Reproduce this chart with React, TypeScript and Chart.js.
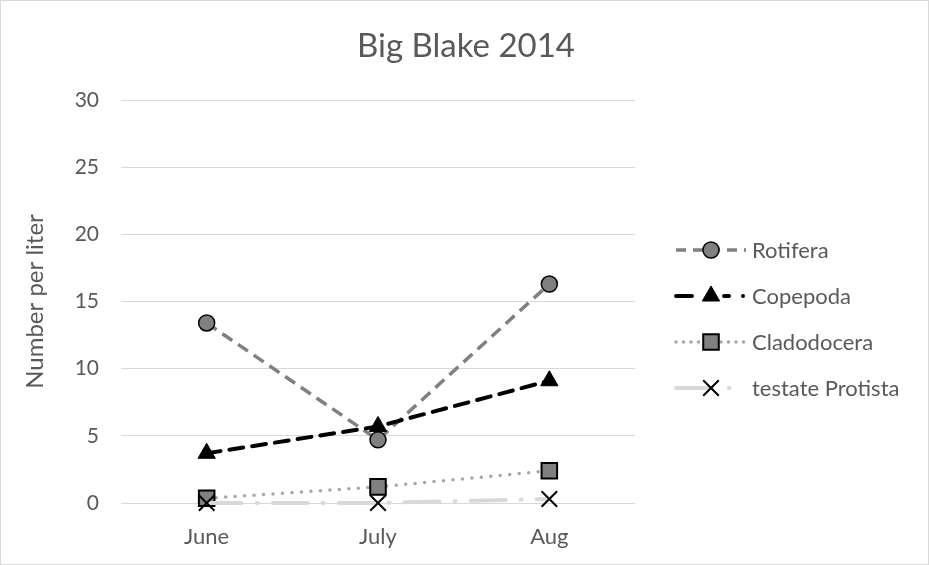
import React, { useEffect, useRef } from "react";
import { Chart, registerables } from "chart.js";
import { drawPoint } from "chart.js/helpers";

Chart.register(...registerables);

const chartTitle = "Big Blake 2014";
const yAxisTitle = "Number per liter";
const categories = ["June", "July", "Aug"];
const rotifera = [13.4, 4.7, 16.3];
const copepoda = [3.7, 5.7, 9.1];
const cladodocera = [0.35, 1.2, 2.4];
const testateProtista = [0, 0, 0.3];
const yTicks = [0, 5, 10, 15, 20, 25, 30];

const FONT = "Lato, 'Open Sans', sans-serif";
const TEXT = "#595959";

const titleLegendPlugin = {
  id: "titleLegend",
  afterDraw(chart: any) {
    const ctx = chart.ctx as CanvasRenderingContext2D;
    // title
    ctx.save();
    ctx.fillStyle = TEXT;
    ctx.font = `33px ${FONT}`;
    ctx.textAlign = "center";
    ctx.textBaseline = "alphabetic";
    ctx.fillText(chartTitle, 465, 56);
    ctx.restore();
    // legend
    const x0 = 675;
    const x1 = 745;
    const y0 = 249;
    const step = 46;
    chart.data.datasets.forEach((ds: any, i: number) => {
      const y = y0 + i * step;
      ctx.save();
      ctx.strokeStyle = ds.borderColor;
      ctx.lineWidth = ds.borderWidth;
      ctx.lineCap = ds.borderCapStyle || "butt";
      ctx.setLineDash(ds.legendDash || ds.borderDash || []);
      ctx.beginPath();
      ctx.moveTo(x0, y);
      ctx.lineTo(x1, y);
      ctx.stroke();
      ctx.restore();
      ctx.save();
      ctx.fillStyle = ds.pointBackgroundColor;
      ctx.strokeStyle = ds.pointBorderColor;
      ctx.lineWidth = ds.pointBorderWidth;
      drawPoint(ctx, { pointStyle: ds.pointStyle, rotation: 0, radius: ds.pointRadius, borderWidth: ds.pointBorderWidth }, (x0 + x1) / 2, y);
      ctx.restore();
      ctx.save();
      ctx.fillStyle = TEXT;
      ctx.font = `22px ${FONT}`;
      ctx.textBaseline = "middle";
      ctx.textAlign = "left";
      ctx.fillText(ds.label, 751, y + 1);
      ctx.restore();
    });
  },
};

export default function App() {
  const ref = useRef<HTMLCanvasElement>(null);
  useEffect(() => {
    if (!ref.current) return;
    const chart = new Chart(ref.current, {
      type: "line",
      data: {
        labels: categories,
        datasets: [
          {
            label: "Rotifera",
            data: rotifera,
            order: 3,
            clip: false,
            borderColor: "#808080",
            borderWidth: 3.5,
            borderDash: [12, 7],
            pointStyle: "circle",
            pointRadius: 8,
            pointBackgroundColor: "#808080",
            pointBorderColor: "#000000",
            pointBorderWidth: 1.5,
            legendDash: [10, 7],
          } as any,
          {
            label: "Copepoda",
            data: copepoda,
            order: 2,
            clip: false,
            borderColor: "#000000",
            borderWidth: 4,
            borderDash: [14, 9],
            borderCapStyle: "round",
            pointStyle: "triangle",
            pointRadius: 10,
            pointBackgroundColor: "#000000",
            pointBorderColor: "#000000",
            pointBorderWidth: 1,
            legendDash: [16, 32, 5, 14, 0, 20],
          } as any,
          {
            label: "Cladodocera",
            data: cladodocera,
            order: 1,
            clip: false,
            borderColor: "#a6a6a6",
            borderWidth: 3.5,
            borderDash: [0, 9.5],
            borderCapStyle: "round",
            pointStyle: "rect",
            pointRadius: 11,
            pointBackgroundColor: "#808080",
            pointBorderColor: "#000000",
            pointBorderWidth: 2,
            legendDash: [0, 7.5],
          } as any,
          {
            label: "testate Protista",
            data: testateProtista,
            order: 0,
            clip: false,
            borderColor: "#d9d9d9",
            borderWidth: 4,
            borderDash: [35, 15, 1, 15],
            borderCapStyle: "round",
            pointStyle: "crossRot",
            pointRadius: 11,
            pointBackgroundColor: "#000000",
            pointBorderColor: "#000000",
            pointBorderWidth: 2,
            legendDash: [36, 17, 0.5, 40],
          } as any,
        ],
      },
      options: {
        responsive: false,
        animation: false,
        layout: { padding: { top: 99, right: 293, bottom: 0, left: 0 } },
        plugins: {
          legend: { display: false },
          tooltip: { enabled: false },
          title: { display: false },
        },
        scales: {
          x: {
            offset: true,
            grid: { display: false, drawTicks: false },
            border: { display: false },
            ticks: { color: TEXT, font: { family: FONT, size: 22 }, padding: 21 },
            afterFit: (s: any) => { s.height = 61; },
          },
          y: {
            min: 0,
            max: 30,
            afterBuildTicks: (s: any) => { s.ticks = yTicks.map((v) => ({ value: v })); },
            grid: { color: "#d9d9d9", lineWidth: 1, drawTicks: false },
            border: { display: false },
            ticks: { color: TEXT, font: { family: FONT, size: 21 }, padding: 22 },
            title: {
              display: true,
              text: yAxisTitle,
              color: TEXT,
              font: { family: FONT, size: 24 },
              padding: { top: 20, bottom: 0 },
            },
            afterFit: (s: any) => { s.width = 120; },
          },
        },
      },
      plugins: [titleLegendPlugin],
    });
    return () => chart.destroy();
  }, []);
  return (
    <div style={{ position: "absolute", left: 0, top: 0, width: 929, height: 565, boxSizing: "border-box", border: "1px solid #d9d9d9", background: "#fff" }}>
      <canvas ref={ref} width={927} height={563} style={{ display: "block", width: 927, height: 563 }} />
    </div>
  );
}
